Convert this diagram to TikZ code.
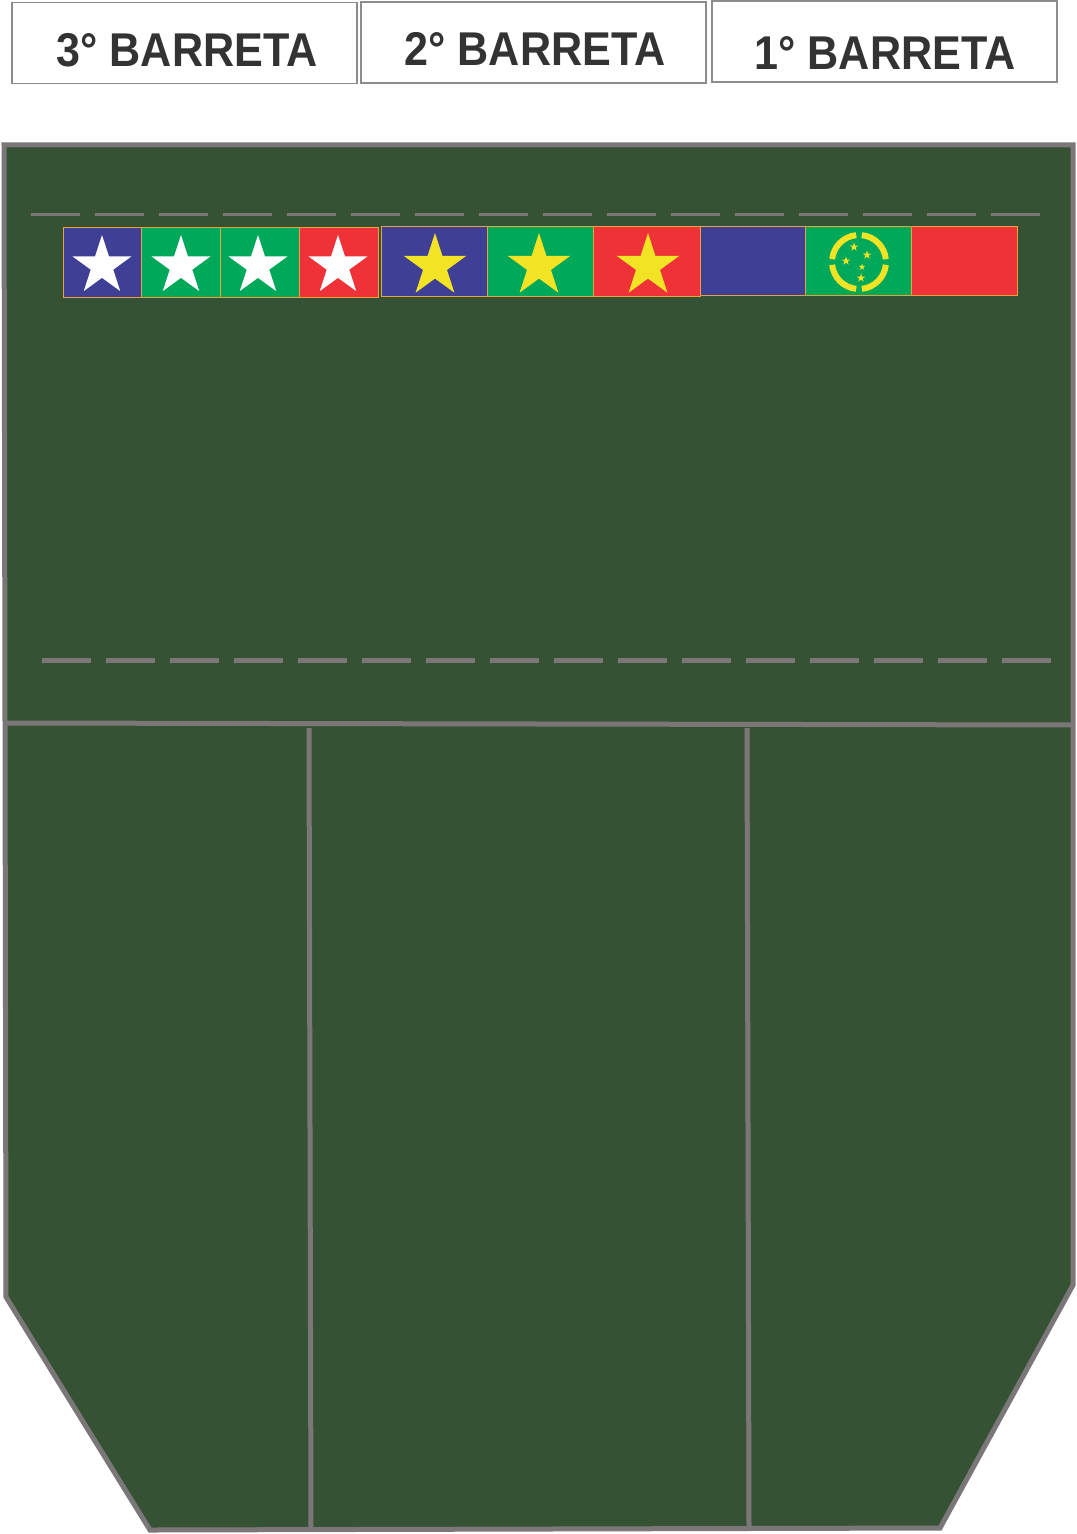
\documentclass[tikz,border=0pt]{standalone}
\usepackage{fontspec}
\setmainfont{Liberation Sans}
\usetikzlibrary{shapes.geometric}
\definecolor{farda}{RGB}{54,82,53}
\definecolor{costura}{RGB}{123,119,121}
\definecolor{moldura}{RGB}{140,140,140}
\definecolor{letra}{RGB}{51,51,51}
\definecolor{azul}{RGB}{62,63,149}
\definecolor{verde}{RGB}{0,168,90}
\definecolor{vermelho}{RGB}{238,50,55}
\definecolor{amarelo}{RGB}{242,227,36}
\definecolor{filete}{RGB}{232,163,58}

\begin{document}
\begin{tikzpicture}[x=0.5pt, y=-0.5pt,
    tag/.style = {draw=moldura, line width=0.6pt, minimum width=172.5pt, minimum height=40.5pt, inner sep=0pt},
    tagtext/.style = {text=letra, font=\bfseries\fontsize{23.7}{28}\selectfont, inner sep=0pt},
    estrela/.style = {star, star points=5, star point ratio=2.618, inner sep=0pt, minimum size=#1},
    faixa/.style = {draw=filete, line width=0.5pt},
    linha/.style = {draw=costura, line width=2.5pt}]
                \useasboundingbox (0,0) rectangle (1076,1534);

                % etiquetas
                \node[tag] at (184.5,43) (tag3) {};
                \node[tag] at (533.5,42.5) (tag2) {};
                \node[tag] at (884.5,41.5) (tag1) {};
                \node[tagtext] at (187,50) (txt3) {\scalebox{0.91}[1]{3° BARRETA}};
                \node[tagtext] at (535,49) (txt2) {\scalebox{0.91}[1]{2° BARRETA}};
                \node[tagtext] at (885,53) (txt1) {\scalebox{0.91}[1]{1° BARRETA}};

                % corpo
                \fill[farda] (4,145) -- (1073,145) -- (1073,1285) -- (940,1528) -- (150,1530) -- (6,1297) -- cycle;
                \draw[linha] (6,723) -- (1073,725);
                \draw[linha] (309,728) -- (311,1530);
                \draw[linha] (747,728) -- (749,1528);
                \draw[linha, line join=miter] (4,145) -- (1073,145) -- (1073,1285) -- (940,1528) -- (150,1530) -- (6,1297) -- cycle;

                % costuras
                \draw[draw=costura, line width=1.5pt, dash pattern=on 24.5pt off 7.5pt] (31,215) -- (1046,215);
                \draw[draw=costura, line width=2.5pt, dash pattern=on 24.5pt off 7.5pt] (42,660) -- (1056,660);

                % 3a barreta
                \filldraw[faixa, fill=azul] (63,228) rectangle (141,298);
                \filldraw[faixa, fill=verde] (141,228) rectangle (220,298);
                \filldraw[faixa, fill=verde] (220,228) rectangle (299,298);
                \filldraw[faixa, fill=vermelho] (299,228) rectangle (378,298);
                \foreach \x in {102,181,258,338}
                    \node[estrela=31pt, fill=white] at (\x,266) {};

                % 2a barreta
                \filldraw[faixa, fill=azul] (381,227) rectangle (487,297);
                \filldraw[faixa, fill=verde] (487,227) rectangle (593,297);
                \filldraw[faixa, fill=vermelho] (593,227) rectangle (700,297);
                \foreach \x in {435,539,648}
                    \node[estrela=33pt, fill=amarelo] at (\x,266) {};

                % 1a barreta
                \filldraw[faixa, fill=azul] (700,227) rectangle (805,296);
                \filldraw[faixa, fill=verde] (805,227) rectangle (911,296);
                \filldraw[faixa, fill=vermelho] (911,227) rectangle (1017,296);
                \coordinate (ring) at (859,262);
                \foreach \a in {0,90,180,270}
                    \draw[amarelo, line width=3pt] ([shift={(\a+6:13.5pt)}]ring) arc[start angle=\a+6, end angle=\a+84, radius=13.5pt];
                \node[estrela=4.5pt, fill=amarelo] at (854,247) {};
                \node[estrela=4.5pt, fill=amarelo] at (867,255) {};
                \node[estrela=4.5pt, fill=amarelo] at (846,261) {};
                \node[estrela=3.5pt, fill=amarelo] at (862,267) {};
                \node[estrela=4.5pt, fill=amarelo] at (861,278) {};
            \end{tikzpicture}
\end{document}
